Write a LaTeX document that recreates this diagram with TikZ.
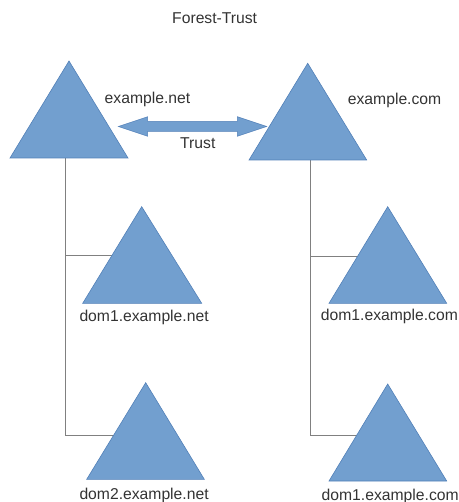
\documentclass[tikz,border=0pt]{standalone}
\usepackage{fontspec}
\setmainfont{Liberation Sans}
\definecolor{tri}{RGB}{114,159,207}
\definecolor{triedge}{RGB}{82,128,184}
\definecolor{txt}{RGB}{51,51,51}
\definecolor{ln}{RGB}{128,128,128}
\tikzset{
  tribox/.style={fill=tri,draw=triedge,line width=0.6pt,line join=miter},
  lbl/.style={anchor=base west,inner sep=0pt,text=txt,font=\fontsize{15.7}{18}\selectfont},
  conn/.style={draw=ln,line width=0.8pt},
  trustarrow/.style={fill=tri,draw=triedge,line width=0.5pt}
}
\begin{document}
\begin{tikzpicture}[x=1pt,y=-1pt]
\useasboundingbox (0,0) rectangle (458,502);
% tree connectors (drawn first, triangles cover their ends)
\coordinate (lt) at (65.5,158);
\coordinate (lm) at (130,255.7);
\coordinate (lb) at (130,435.7);
\coordinate (rt) at (310,160);
\coordinate (rm) at (375,256.5);
\coordinate (rb) at (375,435.7);
\draw[conn] (lt) |- (lm);
\draw[conn] (lt) |- (lb);
\draw[conn] (rt) |- (rm);
\draw[conn] (rt) |- (rb);
% triangles
\path[tribox] (10,158) -- (69,61) -- (128,158) -- cycle;
\path[tribox] (249,160) -- (307.7,63.3) -- (366.7,160) -- cycle;
\path[tribox] (82.7,303.3) -- (141.7,206.7) -- (201.7,303.3) -- cycle;
\path[tribox] (329,303.3) -- (387.7,206.7) -- (446.7,303.3) -- cycle;
\path[tribox] (86.7,479.3) -- (145.7,382.7) -- (204.3,479.3) -- cycle;
\path[tribox] (329,481) -- (387.7,384) -- (446.7,481) -- cycle;
% trust double arrow
\path[trustarrow] (118.3,126.5) -- (147.7,116.7) -- (147.7,121.5) -- (237.3,121.5) -- (237.3,116.7)
  -- (266.7,126.5) -- (237.3,136.3) -- (237.3,131.5) -- (147.7,131.5) -- (147.7,136.3) -- cycle;
% labels
\node[lbl] (title) at (172,24) {Forest-Trust};
\node[lbl] (net) at (104.5,103.3) {example.net};
\node[lbl] (com) at (347.7,104.3) {example.com};
\node[lbl] (trust) at (180,149) {Trust};
\node[lbl] (d1net) at (79.3,321.5) {dom1.example.net};
\node[lbl] (d1com) at (320.7,320.5) {dom1.example.com};
\node[lbl] (d2net) at (79.3,499.3) {dom2.example.net};
\node[lbl] (d1com2) at (321.5,500.5) {dom1.example.com};
\end{tikzpicture}
\end{document}
